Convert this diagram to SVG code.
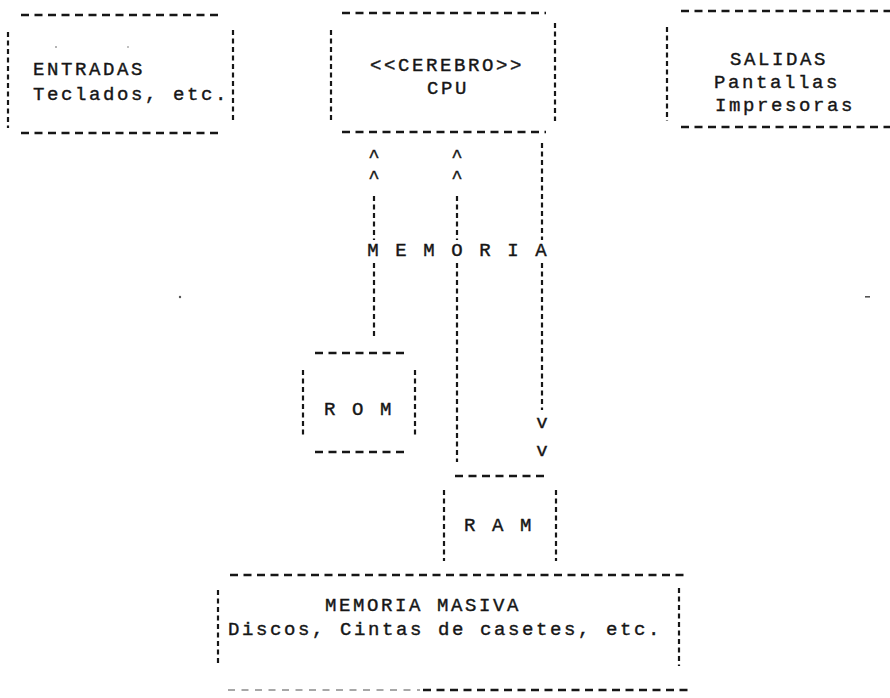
<svg xmlns="http://www.w3.org/2000/svg" width="890" height="698" viewBox="0 0 890 698">
<style>
  .t { font-family: "Liberation Mono", "DejaVu Sans Mono", monospace; font-size: 19px; letter-spacing: 2.6px; fill: #161616; stroke: #161616; stroke-width: 0.4; }
  .h { stroke: #161616; stroke-width: 2.6; stroke-dasharray: 8 5.5; fill: none; }
  .v { stroke: #161616; stroke-width: 2.2; stroke-dasharray: 5 3.5; fill: none; }
  .hf { stroke: #8a8a8a; stroke-width: 1.6; stroke-dasharray: 7 6.5; fill: none; }
  .a { font-family: "Liberation Mono", "DejaVu Sans Mono", monospace; font-size: 19px; fill: #161616; stroke: #161616; stroke-width: 0.4; text-anchor: middle; }
</style>
<rect width="890" height="698" fill="#ffffff"/>

<g id="entradas">
  <line class="h" x1="21" y1="15" x2="223" y2="15"/>
  <line class="h" x1="21" y1="133" x2="223" y2="133"/>
  <line class="v" x1="8" y1="32" x2="8" y2="128"/>
  <line class="v" x1="233" y1="30" x2="233" y2="121"/>
  <text class="t" x="33" y="75">ENTRADAS</text>
  <text class="t" x="33" y="100">Teclados, etc.</text>
</g>

<g id="cerebro">
  <line class="h" x1="342" y1="13" x2="546" y2="13"/>
  <line class="h" x1="342" y1="132" x2="546" y2="132"/>
  <line class="v" x1="331" y1="30" x2="331" y2="121"/>
  <line class="v" x1="555" y1="23" x2="555" y2="121"/>
  <text class="t" x="370" y="71">&lt;&lt;CEREBRO&gt;&gt;</text>
  <text class="t" x="427" y="94">CPU</text>
</g>

<g id="salidas">
  <line class="h" x1="681" y1="11" x2="890" y2="11"/>
  <line class="h" x1="681" y1="127" x2="890" y2="127"/>
  <line class="v" x1="667" y1="27" x2="667" y2="121"/>
  <text class="t" x="730" y="65">SALIDAS</text>
  <text class="t" x="714" y="88">Pantallas</text>
  <text class="t" x="715" y="111">Impresoras</text>
</g>

<g id="rom">
  <line class="h" x1="315" y1="353" x2="406" y2="353"/>
  <line class="h" x1="315" y1="452" x2="406" y2="452"/>
  <line class="v" x1="303" y1="370" x2="303" y2="438"/>
  <line class="v" x1="415" y1="370" x2="415" y2="438"/>
  <text class="t" x="324" y="415">R O M</text>
</g>

<g id="ram">
  <line class="h" x1="455" y1="476" x2="548" y2="476"/>
  <line class="v" x1="444" y1="490" x2="444" y2="561"/>
  <line class="v" x1="556" y1="490" x2="556" y2="561"/>
  <text class="t" x="464" y="531">R A M</text>
</g>

<g id="memoria-masiva">
  <line class="h" x1="230" y1="575" x2="686" y2="575"/>
  <line class="hf" x1="228" y1="690" x2="420" y2="690"/>
  <line class="h" x1="423" y1="690" x2="689" y2="690"/>
  <line class="v" x1="218" y1="590" x2="218" y2="666"/>
  <line class="v" x1="679" y1="588" x2="679" y2="666"/>
  <text class="t" x="325" y="611">MEMORIA MASIVA</text>
  <text class="t" x="228" y="635">Discos, Cintas de casetes, etc.</text>
</g>

<g id="memoria-label">
  <text class="t" x="367.3" y="256">M E M O R I A</text>
</g>

<g id="connectors">
  <text class="a" x="374" y="162">^</text>
  <text class="a" x="374" y="183">^</text>
  <line class="v" x1="374" y1="196" x2="374" y2="240"/>
  <line class="v" x1="374" y1="263" x2="374" y2="338"/>

  <text class="a" x="457" y="162">^</text>
  <text class="a" x="457" y="183">^</text>
  <line class="v" x1="457" y1="196" x2="457" y2="240"/>
  <line class="v" x1="457" y1="263" x2="457" y2="462"/>

  <line class="v" x1="542" y1="143" x2="542" y2="240"/>
  <line class="v" x1="542" y1="263" x2="542" y2="410"/>
  <text class="a" x="542" y="428">v</text>
  <text class="a" x="542" y="456">v</text>
</g>

<g id="specks" fill="#555">
  <circle cx="180" cy="297" r="1.2"/>
  <rect x="865" y="296" width="5" height="1.6"/>
  <circle cx="56" cy="47" r="0.8"/>
  <circle cx="128" cy="47" r="0.7"/>
</g>
</svg>
